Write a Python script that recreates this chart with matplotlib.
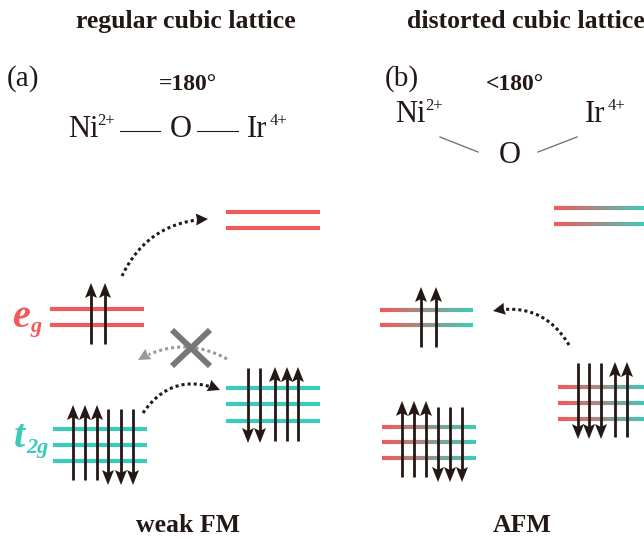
import numpy as np
import matplotlib.pyplot as plt
from matplotlib.patches import Polygon
from matplotlib.collections import LineCollection
from matplotlib.colors import to_rgb

plt.rcParams['font.family'] = ['Liberation Serif', 'DejaVu Serif']

red = '#ef5a5a'
teal = '#3ccbbb'
ink = '#231815'
grey = '#777777'

# texts
panel_titles = ["regular cubic lattice", "distorted cubic lattice"]
panel_labels = ["(a)", "(b)"]
angle_labels = ["=180°", "<180°"]
order_labels = ["weak FM", "AFM"]

# energy levels (x range, y of each line), pixel units of the 644x539 canvas
a_upper_x, a_upper_y = (226, 320), [212, 228]
a_eg_x, a_eg_y = (50, 144), [309, 325]
a_t2g_l_x, a_t2g_l_y = (53, 147), [429, 445, 461]
a_t2g_r_x, a_t2g_r_y = (226, 320), [388, 404, 421]

b_upper_x, b_upper_y = (554, 648), [208, 224]
b_eg_x, b_eg_y = (380, 473), [310, 325]
b_t2g_l_x, b_t2g_l_y = (382, 476), [427, 442, 458]
b_t2g_r_x, b_t2g_r_y = (558, 650), [387, 403, 419]

# spins: x, y tail, y head
spins = [
    ([91, 105], 344, 283),
    ([73, 85, 97], 480, 405),
    ([108, 121, 133], 409, 485),
    ([248, 260], 368, 443),
    ([275, 287, 298], 441, 367),
    ([421, 436], 347, 287),
    ([402, 414, 426], 477, 401),
    ([438, 450, 462], 407, 482),
    ([578, 589, 601], 363, 439),
    ([615, 627], 437, 362),
]

# hopping paths: start, end, bend, colour
hops = [
    ((122, 276), (208, 219), 0.3, ink),
    ((143, 413), (220, 390), 0.4, ink),
    ((227, 359), (138, 360), -0.28, '#999999'),
    ((569, 345), (493, 311), -0.35, ink),
]

fig = plt.figure(figsize=(6.44, 5.39), dpi=100)
ax = fig.add_axes([0, 0, 1, 1])
ax.set_xlim(0, 644)
ax.set_ylim(539, 0)
ax.axis('off')


def head(tip, d, length, half, notch, color):
    d = np.asarray(d, float)
    d = d / np.hypot(*d)
    n = np.array([-d[1], d[0]])
    tip = np.asarray(tip, float)
    back = tip - d * length
    pts = [tip, back + n * half, tip - d * (length - notch), back - n * half]
    ax.add_patch(Polygon(pts, closed=True, fc=color, ec='none', zorder=4))


def levels(xr, ys, color):
    for y in ys:
        ax.plot(xr, [y, y], color=color, lw=3, solid_capstyle='butt', zorder=1)


def grad_levels(xr, ys):
    n = 80
    xs = np.linspace(xr[0], xr[1], n + 1)
    c0, c1 = np.array(to_rgb(red)), np.array(to_rgb(teal))
    t = np.linspace(0, 1, n)[:, None]
    cols = c0 * (1 - t) + c1 * t
    for y in ys:
        segs = [[(xs[i], y), (xs[i + 1], y)] for i in range(n)]
        ax.add_collection(LineCollection(segs, colors=cols, linewidths=3,
                                         capstyle='butt', zorder=1))


levels(a_upper_x, a_upper_y, red)
levels(a_eg_x, a_eg_y, red)
levels(a_t2g_l_x, a_t2g_l_y, teal)
levels(a_t2g_r_x, a_t2g_r_y, teal)
grad_levels(b_upper_x, b_upper_y)
grad_levels(b_eg_x, b_eg_y)
grad_levels(b_t2g_l_x, b_t2g_l_y)
grad_levels(b_t2g_r_x, b_t2g_r_y)

for xs, y0, y1 in spins:
    sgn = np.sign(y1 - y0)
    for x in xs:
        ax.plot([x, x], [y0, y1 - sgn * 9], color=ink, lw=2.0,
                solid_capstyle='butt', zorder=3)
        head((x, y1), (0, sgn), 15, 6, 3, ink)

for p0, p1, rad, col in hops:
    p0, p1 = np.array(p0, float), np.array(p1, float)
    d = p1 - p0
    c = (p0 + p1) / 2 + rad * np.array([d[1], -d[0]])
    t = np.linspace(0, 0.88, 60)[:, None]
    pts = (1 - t) ** 2 * p0 + 2 * (1 - t) * t * c + t ** 2 * p1
    ax.plot(pts[:, 0], pts[:, 1], color=col, lw=2.2, linestyle=(0, (1, 1.0)),
            dash_capstyle='butt', zorder=3)
    head(p1, p1 - c, 12, 6, 1, col)

# forbidden hopping cross
ax.plot([172, 210], [330, 366], color=grey, lw=4.2, solid_capstyle='butt', zorder=5)
ax.plot([172, 210], [366, 330], color=grey, lw=4.2, solid_capstyle='butt', zorder=5)

# orbital labels
ax.text(12, 327, 'e', color=red, fontsize=29, fontweight='bold', style='italic', va='baseline')
ax.text(30, 332, 'g', color=red, fontsize=16, fontweight='bold', style='italic', va='baseline')
ax.text(14, 447, 't', color=teal, fontsize=29, fontweight='bold', style='italic', va='baseline')
ax.text(26, 453, '2g', color=teal, fontsize=16, fontweight='bold', style='italic', va='baseline')

# headers
ax.text(186, 28, panel_titles[0], fontsize=18.5, fontweight='bold', color=ink, ha='center', va='baseline')
ax.text(407, 28, panel_titles[1], fontsize=18.5, fontweight='bold', color=ink, ha='left', va='baseline')
ax.text(7, 86, panel_labels[0], fontsize=21, color=ink, va='baseline')
ax.text(385, 86, panel_labels[1], fontsize=21, color=ink, va='baseline')
ax.text(188, 90, angle_labels[0], fontsize=17, fontweight='bold', color=ink, ha='center', va='baseline')
ax.text(515, 90, angle_labels[1], fontsize=17, fontweight='bold', color=ink, ha='center', va='baseline')

# bonds (a)
ax.text(68, 137, 'Ni', fontsize=22, color=ink, va='baseline')
ax.text(97, 125, '2+', fontsize=12, color=ink, va='baseline')
ax.text(181, 137, 'O', fontsize=22, color=ink, ha='center', va='baseline')
ax.text(247, 137, 'Ir', fontsize=22, color=ink, va='baseline')
ax.text(270, 125, '4+', fontsize=12, color=ink, va='baseline')
ax.plot([120, 160], [131, 131], color=ink, lw=0.8)
ax.plot([197, 238], [131, 131], color=ink, lw=0.8)

# bonds (b)
ax.text(395, 122, 'Ni', fontsize=22, color=ink, va='baseline')
ax.text(425, 110, '2+', fontsize=12, color=ink, va='baseline')
ax.text(510, 163, 'O', fontsize=22, color=ink, ha='center', va='baseline')
ax.text(585, 122, 'Ir', fontsize=22, color=ink, va='baseline')
ax.text(608, 110, '4+', fontsize=12, color=ink, va='baseline')
ax.plot([440, 478], [137, 152], color=grey, lw=1)
ax.plot([538, 577], [152, 137], color=grey, lw=1)

ax.text(188, 532, order_labels[0], fontsize=18.5, fontweight='bold', color=ink, ha='center', va='baseline')
ax.text(522, 532, order_labels[1], fontsize=18.5, fontweight='bold', color=ink, ha='center', va='baseline')

fig.savefig('out.png', dpi=100)
